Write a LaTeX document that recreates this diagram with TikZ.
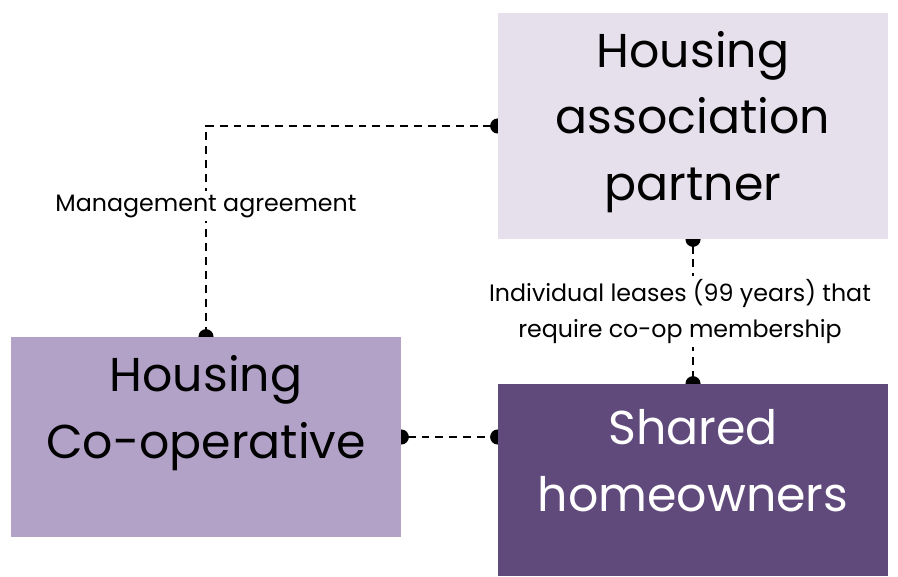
\documentclass[tikz,border=0pt]{standalone}
\usepackage{fontspec}
\setmainfont{Poppins}
\usepackage{tikz}
\usetikzlibrary{positioning,arrows.meta,backgrounds}

\definecolor{lightlav}{HTML}{E6E0EC}
\definecolor{midlav}{HTML}{B3A2C7}
\definecolor{darkpurple}{HTML}{604A7B}

\begin{document}
\begin{tikzpicture}[
    box/.style={rectangle, inner sep=0pt, minimum width=7.8cm},
    boxtext/.style={align=center, font=\fontsize{27}{38}\selectfont},
    link/.style={line width=1.4pt, dash pattern=on 4.5pt off 3.4pt,
        {Circle[length=0.3cm]}-{Circle[length=0.3cm]},
        shorten <=-0.15cm, shorten >=-0.15cm},
    linklabel/.style={fill=white, align=center, inner sep=2pt,
        font=\fontsize{13.5}{20}\selectfont}
]
    \useasboundingbox (0,0) rectangle (17.96,11.52);

    % the three parties
    \node[box, fill=lightlav, minimum height=4.52cm] (hap) at (13.86,9.0) {};
    \node[box, fill=midlav, minimum height=4.0cm] (coop) at (4.12,2.78) {};
    \node[box, fill=darkpurple, minimum height=3.84cm] (shared) at (13.86,1.92) {};

    \node[boxtext] (haptext) at (13.86,9.08) {Housing\\association\\partner};
    \node[boxtext] (cooptext) at (4.12,3.26) {Housing\\Co-operative};
    \node[boxtext, text=white] (sharedtext) at (13.86,2.30) {Shared\\homeowners};

    % connectors behind the boxes
    \begin{scope}[on background layer]
        \draw[link] (hap.west) -| (coop.north)
            node[linklabel, pos=0.69] (mgmt) {Management agreement};
        \draw[link] (hap.south) -- (shared.north)
            node[linklabel, midway, xshift=-0.26cm] (lease)
            {Individual leases (99 years) that\\require co-op membership};
        \draw[link] (coop.east) -- (coop.east -| shared.west);
    \end{scope}
\end{tikzpicture}
\end{document}
